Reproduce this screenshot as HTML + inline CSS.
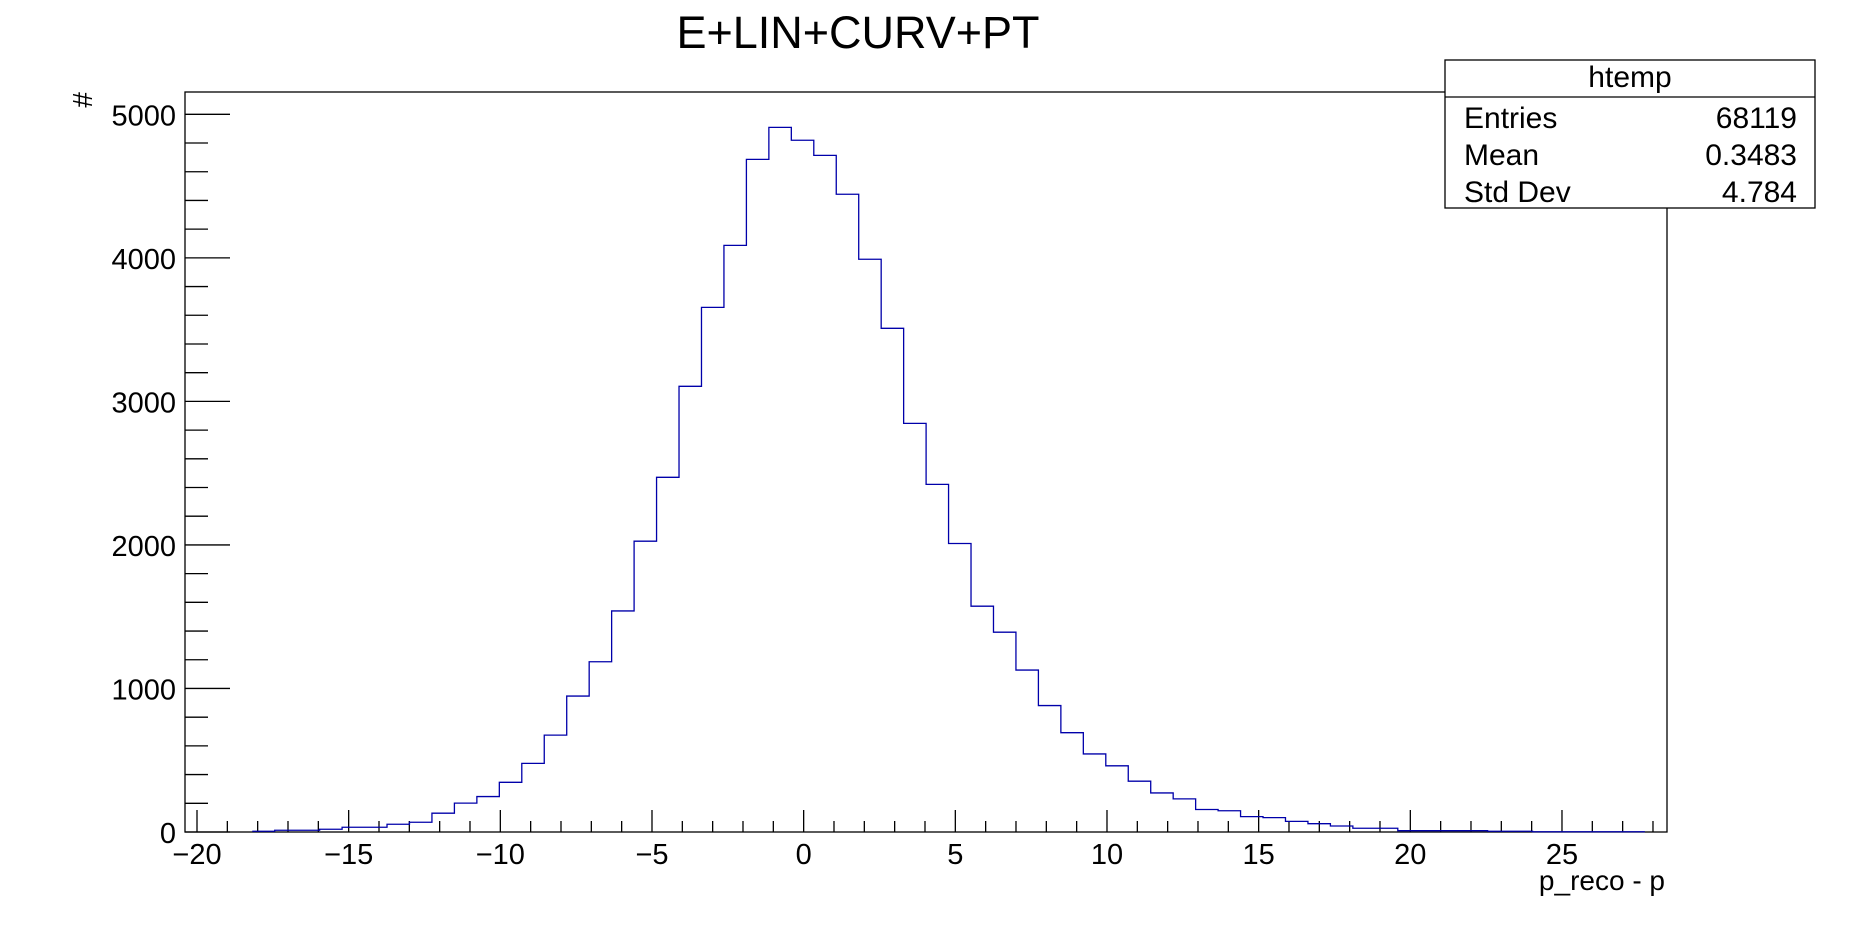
<!DOCTYPE html>
<html><head><meta charset="utf-8"><style>
html,body{margin:0;padding:0;background:#fff;}
svg{display:block;font-family:"Liberation Sans",Arial,sans-serif;}
</style></head><body>
<svg id="chart" width="1853" height="925" viewBox="0 0 1853 925" xmlns="http://www.w3.org/2000/svg">
<rect x="0" y="0" width="1853" height="925" fill="#fff"/>
<text x="858" y="48" font-size="45" text-anchor="middle">E+LIN+CURV+PT</text>
<rect x="185" y="92" width="1482" height="740" fill="none" stroke="#000" stroke-width="1.3"/>
<g id="axes"></g>
<path id="hist" fill="none" stroke="#0000aa" stroke-width="1.3"/>
<text x="1665" y="890" font-size="28" text-anchor="end">p_reco - p</text>
<text x="0" y="0" font-size="28" text-anchor="end" transform="translate(92,92) rotate(-90)">#</text>
<g>
<rect x="1445" y="60" width="370" height="148" fill="#fff" stroke="#000" stroke-width="1.3"/>
<line x1="1445" y1="97" x2="1815" y2="97" stroke="#000" stroke-width="1.3"/>
<text x="1630" y="87" font-size="30" text-anchor="middle">htemp</text>
<text x="1464" y="128" font-size="30">Entries</text>
<text x="1797" y="128" font-size="30" text-anchor="end">68119</text>
<text x="1464" y="165" font-size="30">Mean</text>
<text x="1797" y="165" font-size="30" text-anchor="end">0.3483</text>
<text x="1464" y="202" font-size="30">Std Dev</text>
<text x="1797" y="202" font-size="30" text-anchor="end">4.784</text>
</g>
</svg>
<script>
const binLow = -20.4;
const binWidth = 0.7405;
const counts = [0,0,0,5,12,12,19,33,33,54,68,131,201,247,346,478,675,947,1186,1540,2026,
2471,3105,3655,4087,4686,4909,4819,4714,4443,3990,3509,2847,2422,
2010,1573,1392,1128,881,692,544,461,354,272,231,157,148,107,100,74,58,42,26,26,9,9,9,9,5,5,2,2,2,2,2,0];
const xTickLabels = [-20,-15,-10,-5,0,5,10,15,20,25];
const yTickLabels = [0,1000,2000,3000,4000,5000];

const ns = "http://www.w3.org/2000/svg";
function X(v){ return 197 + (v + 20) * 30.333; }
function Y(c){ return 832 - c * 0.14354; }
const axes = document.getElementById('axes');
function line(x1,y1,x2,y2,name){
  const l = document.createElementNS(ns,'line');
  l.setAttribute('x1',x1);l.setAttribute('y1',y1);l.setAttribute('x2',x2);l.setAttribute('y2',y2);
  l.setAttribute('stroke','#000');l.setAttribute('stroke-width','1.3');
  
  
  axes.appendChild(l);
}
function text(x,y,s,anchor,name){
  const t = document.createElementNS(ns,'text');
  t.setAttribute('x',x);t.setAttribute('y',y);t.setAttribute('font-size','29');
  t.setAttribute('text-anchor',anchor);
  t.textContent = s;
  
  
  axes.appendChild(t);
}
for (let v = -20; v <= 28; v++) {
  const major = (v % 5 === 0);
  line(X(v), 832, X(v), major ? 810 : 821, major ? 'x-major-tick' : 'x-minor-tick');
}
xTickLabels.forEach(v => {
  text(X(v), 864, (v < 0 ? '\u2212' + Math.abs(v) : String(v)), 'middle', 'x-tick-label');
});
for (let c = 0; c <= 5100; c += 200) {
  const major = (c % 1000 === 0);
  line(185, Y(c), major ? 230 : 208, Y(c), major ? 'y-major-tick' : 'y-minor-tick');
}
yTickLabels.forEach(c => {
  text(176, Y(c) + 11, String(c), 'end', 'y-tick-label');
});
let first = counts.findIndex(c => c > 0);
let last = counts.length - 1;
while (last > 0 && counts[last] === 0) last--;
let d = '';
for (let i = first; i <= last; i++) {
  const c = counts[i];
  const x0 = X(binLow + i * binWidth), x1 = X(binLow + (i + 1) * binWidth);
  d += (i === first ? 'M' : 'L') + x0 + ',' + Y(c) + 'L' + x1 + ',' + Y(c);
}
document.getElementById('hist').setAttribute('d', d);
</script>
</body></html>
